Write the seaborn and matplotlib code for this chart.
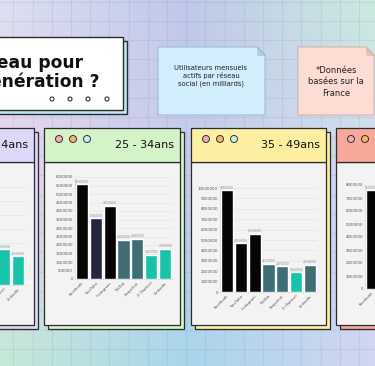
import numpy as np
import matplotlib
matplotlib.use('Agg')
import matplotlib.pyplot as plt
import seaborn as sns
from matplotlib.patches import Rectangle, Polygon, Circle
from matplotlib.colors import to_rgb

# donnees
plateformes = ['Facebook', 'YouTube', 'Instagram', 'TikTok', 'Snapchat', 'X (Twitter)', 'LinkedIn']
tranches = ['18 - 24ans', '25 - 34ans', '35 - 49ans', '50 - 64ans']

users_18_24 = [3200000, 4400000, 5600000, 4900000, 5500000, 2550000, 2050000]
users_25_34 = [5590000, 3580000, 4310000, 2300000, 2380000, 1420000, 1790000]
users_35_49 = [9780000, 4710000, 5610000, 2720000, 2470000, 1920000, 2630000]
users_50_64 = [7600000, 3900000, 3000000, 1200000, 800000, 1100000, 1500000]

# couleurs
noir, nuit, ardoise, turq = '#050505', '#24273b', '#3e6d75', '#18c3a9'
couleurs_18_24 = [ardoise, noir, noir, noir, noir, turq, turq]
couleurs_25_34 = [noir, nuit, noir, ardoise, ardoise, turq, turq]
couleurs_35_49 = [noir, noir, noir, ardoise, ardoise, turq, ardoise]
couleurs_50_64 = [noir, noir, noir, ardoise, ardoise, turq, ardoise]

W, H = 375, 366


def fig_rect(x0, y0, x1, y1):
    return [x0 / W, 1 - y1 / H, (x1 - x0) / W, (y1 - y0) / H]


sns.set_style('white')
plt.rcParams['font.family'] = ['DejaVu Sans']

fig = plt.figure(figsize=(3.75, 3.66), dpi=100)
bg = fig.add_axes([0, 0, 1, 1])
bg.set_xlim(0, W)
bg.set_ylim(H, 0)
bg.axis('off')

# fond degrade pastel
coins = np.array([[to_rgb('#dde0f1'), to_rgb('#bfc8ea'), to_rgb('#cbeadf')],
                  [to_rgb('#e9d3ea'), to_rgb('#c8cdec'), to_rgb('#d3d8ef')],
                  [to_rgb('#c5e9d7'), to_rgb('#a7d6eb'), to_rgb('#d2d5f1')]])
n = 120
u = np.linspace(0, 2, n)
i0 = np.clip(np.floor(u).astype(int), 0, 1)
f = (u - i0)[:, None]
rows = coins[i0] * (1 - f[:, :, None]) + coins[i0 + 1] * f[:, :, None]
cols = rows[:, i0] * (1 - f[None, :, :]) + rows[:, i0 + 1] * f[None, :, :]
bg.imshow(cols, extent=[0, W, H, 0], aspect='auto', zorder=0, interpolation='bilinear')
for gx in np.arange(13.3, W, 19.2):
    bg.axvline(gx, color='#7080a8', alpha=0.13, lw=0.8, zorder=1)
for gy in np.arange(349 - 19.3 * 18, H, 19.3):
    bg.axhline(gy, color='#7080a8', alpha=0.13, lw=0.8, zorder=1)

# boite titre
bg.add_patch(Rectangle((-36, 41), 163, 73, fc='#bde5f4', ec='#2b2b2b', lw=1, zorder=2))
bg.add_patch(Rectangle((-40, 37), 163, 73, fc='white', ec='#2b2b2b', lw=1, zorder=3))
bg.text(83, 63, 'Quel réseau pour', ha='right', va='center', fontsize=12.3,
        fontweight='bold', color='#111', zorder=4)
bg.text(100, 82, 'quelle génération ?', ha='right', va='center', fontsize=12.3,
        fontweight='bold', color='#111', zorder=4)
for cx in [52, 70, 88, 107]:
    bg.add_patch(Circle((cx, 99), 2, fc='white', ec='#333', lw=0.8, zorder=4))


def note(x0, x1, fc, ec, texte, cx, cy, fs, ls):
    y0, y1, k = 47, 115, 8
    bg.add_patch(Polygon([(x0, y0), (x1 - k, y0), (x1, y0 + k), (x1, y1), (x0, y1)],
                         closed=True, fc=fc, ec=ec, lw=0.6, zorder=3))
    bg.add_patch(Polygon([(x1 - k, y0), (x1 - k, y0 + k), (x1, y0 + k)],
                         closed=True, fc=ec, ec=ec, lw=0.4, alpha=0.5, zorder=3))
    bg.text(cx, cy, texte, ha='center', va='center', fontsize=fs, linespacing=ls,
            color='#222', zorder=4)


note(158, 265, '#d2edfb', '#8fb3c6', 'Utilisateurs mensuels\nactifs par réseau\nsocial (en milliards)',
     211, 76, 4.9, 1.25)
note(298, 374, '#fcdcd3', '#c9a9a0', '*Données\nbasées sur la\nFrance', 336, 82, 6, 1.35)


def panel(x0, x1, titre, couleur, valeurs, couleurs, ymax, pas, box):
    y0, yh, y1 = 128, 162, 325
    bg.add_patch(Rectangle((x0 + 4, y0 + 4), x1 - x0, y1 - y0, fc=couleur, ec='#2b2b2b', lw=0.9, zorder=2))
    bg.add_patch(Rectangle((x0, yh), x1 - x0, y1 - yh, fc='#f3f3f3', ec='#2b2b2b', lw=0.9, zorder=3))
    bg.add_patch(Rectangle((x0, y0), x1 - x0, yh - y0, fc=couleur, ec='#2b2b2b', lw=0.9, zorder=3))
    for i, c in enumerate(['#f5a9b5', '#f7b46c', '#c9f0f2']):
        bg.add_patch(Circle((x0 + 15 + 14 * i, 139), 3.5, fc=c, ec='#333', lw=0.7, zorder=4))
    bg.text(x1 - 6, 145, titre, ha='right', va='center', fontsize=8, color='#111', zorder=4)

    ax = fig.add_axes(fig_rect(*box))
    sns.barplot(x=plateformes, y=valeurs, hue=plateformes, palette=couleurs, legend=False,
                width=0.88, saturation=1, ax=ax)
    for cont in ax.containers:
        ax.bar_label(cont, fmt='{:.0f}', fontsize=2.2, color='#8a8a8a', padding=0.3)
    ax.set_facecolor('none')
    ax.set_xlim(-0.5, 6.5)
    ax.set_ylim(0, ymax)
    ticks = np.arange(0, ymax + 1, pas)
    ax.set_yticks(ticks)
    ax.set_yticklabels([str(int(t)) for t in ticks])
    ax.set_xticks(range(len(plateformes)))
    ax.set_xticklabels(plateformes, rotation=45, ha='right', rotation_mode='anchor')
    ax.tick_params(labelsize=2.8, length=0, pad=1.5, colors='#555')
    ax.grid(axis='y', color='#e2e2e2', lw=0.4)
    ax.set_axisbelow(True)
    ax.set_xlabel('')
    ax.set_ylabel('')
    for s in ['top', 'right']:
        ax.spines[s].set_visible(False)
    for s in ['left', 'bottom']:
        ax.spines[s].set_color('#d8d8d8')
        ax.spines[s].set_linewidth(0.5)


panel(-103, 34, tranches[0], '#dcd8f8', users_18_24, couleurs_18_24, 7000000, 1000000, (-72, 187, 25, 285))
panel(44, 180, tranches[1], '#d5f3c8', users_25_34, couleurs_25_34, 6000000, 500000, (75, 177, 172, 279))
panel(191, 326, tranches[2], '#fcefa2', users_35_49, couleurs_35_49, 10000000, 1000000, (220, 188, 317, 292))
panel(336, 472, tranches[3], '#f8a898', users_50_64, couleurs_50_64, 8000000, 1000000, (365, 185, 462, 289))

fig.savefig('out.png', dpi=100)
